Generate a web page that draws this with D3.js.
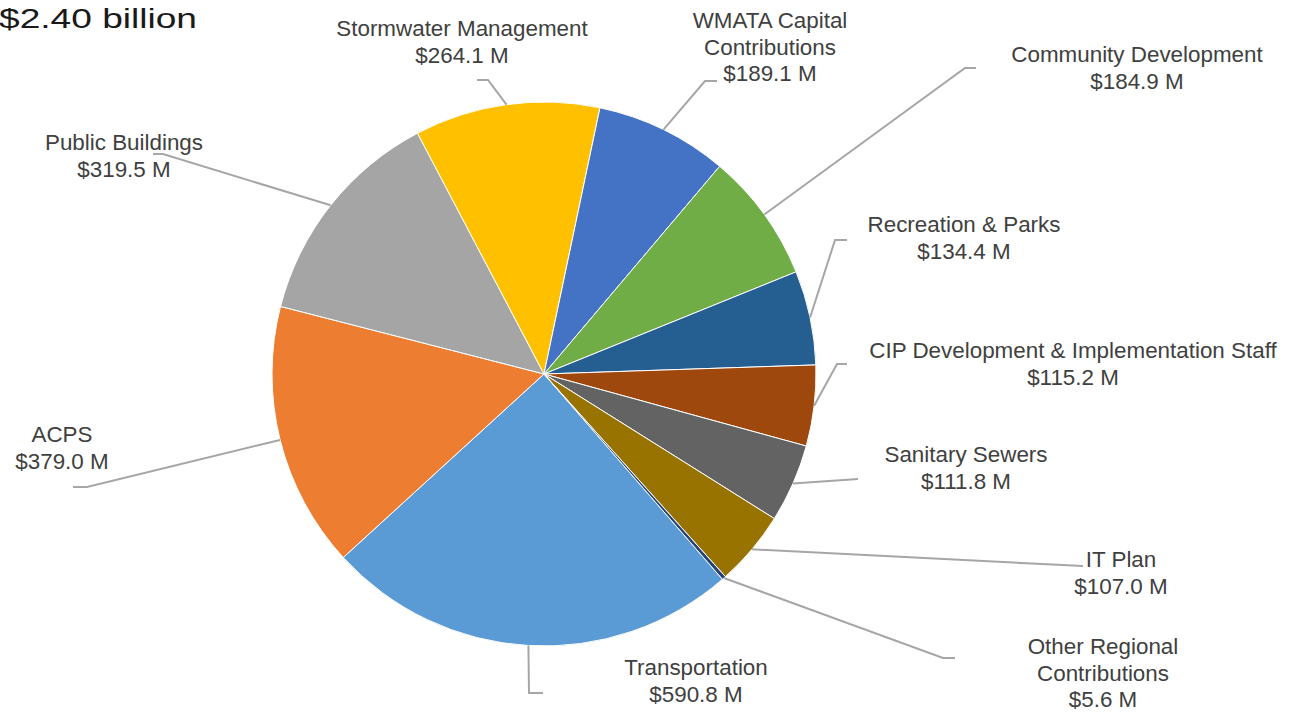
<!DOCTYPE html>
<html>
<head>
<meta charset="utf-8">
<script src="https://cdn.jsdelivr.net/npm/d3@7"></script>
<style>
  body { margin: 0; background: #fff; }
  svg { display: block; }
  .lbl { font-family: "Liberation Sans", Arial, sans-serif; font-size: 22.4px; fill: #404040; }
</style>
</head>
<body>
<svg id="chart" width="1294" height="713"></svg>
<script>
const categories = ["Transportation", "ACPS", "Public Buildings", "Stormwater Management",
  "WMATA Capital Contributions", "Community Development", "Recreation & Parks",
  "CIP Development & Implementation Staff", "Sanitary Sewers", "IT Plan", "Other Regional Contributions"];
const values = [590.8, 379.0, 319.5, 264.1, 189.1, 184.9, 134.4, 115.2, 111.8, 107.0, 5.6];
const labelLines = [
  ["Transportation"], ["ACPS"], ["Public Buildings"], ["Stormwater Management"],
  ["WMATA Capital", "Contributions"], ["Community Development"], ["Recreation & Parks"],
  ["CIP Development & Implementation Staff"], ["Sanitary Sewers"], ["IT Plan"],
  ["Other Regional", "Contributions"]
];
const colors = ["#5B9BD5", "#ED7D31", "#A5A5A5", "#FFC000", "#4472C4", "#70AD47",
  "#255E91", "#9E480E", "#636363", "#997300", "#264478"];
const title = "$2.40 billion";

// label layout (text centre x, first baseline y, leader elbow and end)
const labelLayout = [
  { x: 696, y: 675, elbow: [529, 693], end: [543, 693] },
  { x: 62, y: 442, elbow: [87, 487], end: [73, 487] },
  { x: 124, y: 150, elbow: [163, 154], end: [153, 154] },
  { x: 462, y: 36, elbow: [488, 80], end: [477, 80] },
  { x: 770, y: 28, elbow: [705, 81], end: [717, 81] },
  { x: 1137, y: 62, elbow: [965, 68], end: [976, 68] },
  { x: 964, y: 232, elbow: [835, 240], end: [847, 240] },
  { x: 1073, y: 358, elbow: [837, 364], end: [847, 364] },
  { x: 966, y: 462, elbow: [858, 479], end: [858, 479] },
  { x: 1121, y: 567, elbow: [1083, 566], end: [1083, 566] },
  { x: 1103, y: 654, elbow: [943, 658], end: [955, 658] }
];

const svg = d3.select("#chart");
const cx = 544, cy = 374, radius = 272;
const lineH = 26.6;

const data = categories.map((c, i) => ({ name: c, value: values[i], lines: labelLines[i], color: colors[i], layout: labelLayout[i] }));

const start = 139 * Math.PI / 180;
const pie = d3.pie().sort(null).value((d) => d.value).startAngle(start).endAngle(start + 2 * Math.PI);
const arc = d3.arc().innerRadius(0).outerRadius(radius);
const arcs = pie(data);

const g = svg.append("g").attr("transform", `translate(${cx},${cy})`);

g.selectAll("path.slice")
  .data(arcs)
  .enter()
  .append("path")
  .attr("class", "slice")
  .attr("d", arc)
  .attr("fill", (d) => d.data.color)
  .attr("stroke", "#fff")
  .attr("stroke-width", 1);

// leader lines
const line = d3.line();
svg.selectAll("path.leader")
  .data(arcs)
  .enter()
  .append("path")
  .attr("class", "leader")
  .attr("d", (d) => {
    const a = (d.startAngle + d.endAngle) / 2;
    const p0 = [cx + radius * Math.sin(a), cy - radius * Math.cos(a)];
    return line([p0, d.data.layout.elbow, d.data.layout.end]);
  })
  .attr("fill", "none")
  .attr("stroke", "#A6A6A6")
  .attr("stroke-width", 2);

// labels
const labels = svg.selectAll("text.lbl")
  .data(arcs)
  .enter()
  .append("text")
  .attr("class", "lbl")
  .attr("text-anchor", "middle")
  .attr("x", (d) => d.data.layout.x)
  .attr("y", (d) => d.data.layout.y);

labels.each(function (d) {
  const t = d3.select(this);
  const rows = d.data.lines.concat([`$${d3.format(".1f")(d.data.value)} M`]);
  rows.forEach((r, i) => {
    t.append("tspan").attr("x", d.data.layout.x).attr("y", d.data.layout.y + i * lineH).text(r);
  });
});

svg.append("text")
  .attr("x", -1)
  .attr("y", 28)
  .attr("textLength", 198)
  .attr("lengthAdjust", "spacingAndGlyphs")
  .style("font-family", "'Liberation Sans', Arial, sans-serif")
  .style("font-size", "28px")
  .style("fill", "#1a1a1a")
  .text(title);
</script>
</body>
</html>
